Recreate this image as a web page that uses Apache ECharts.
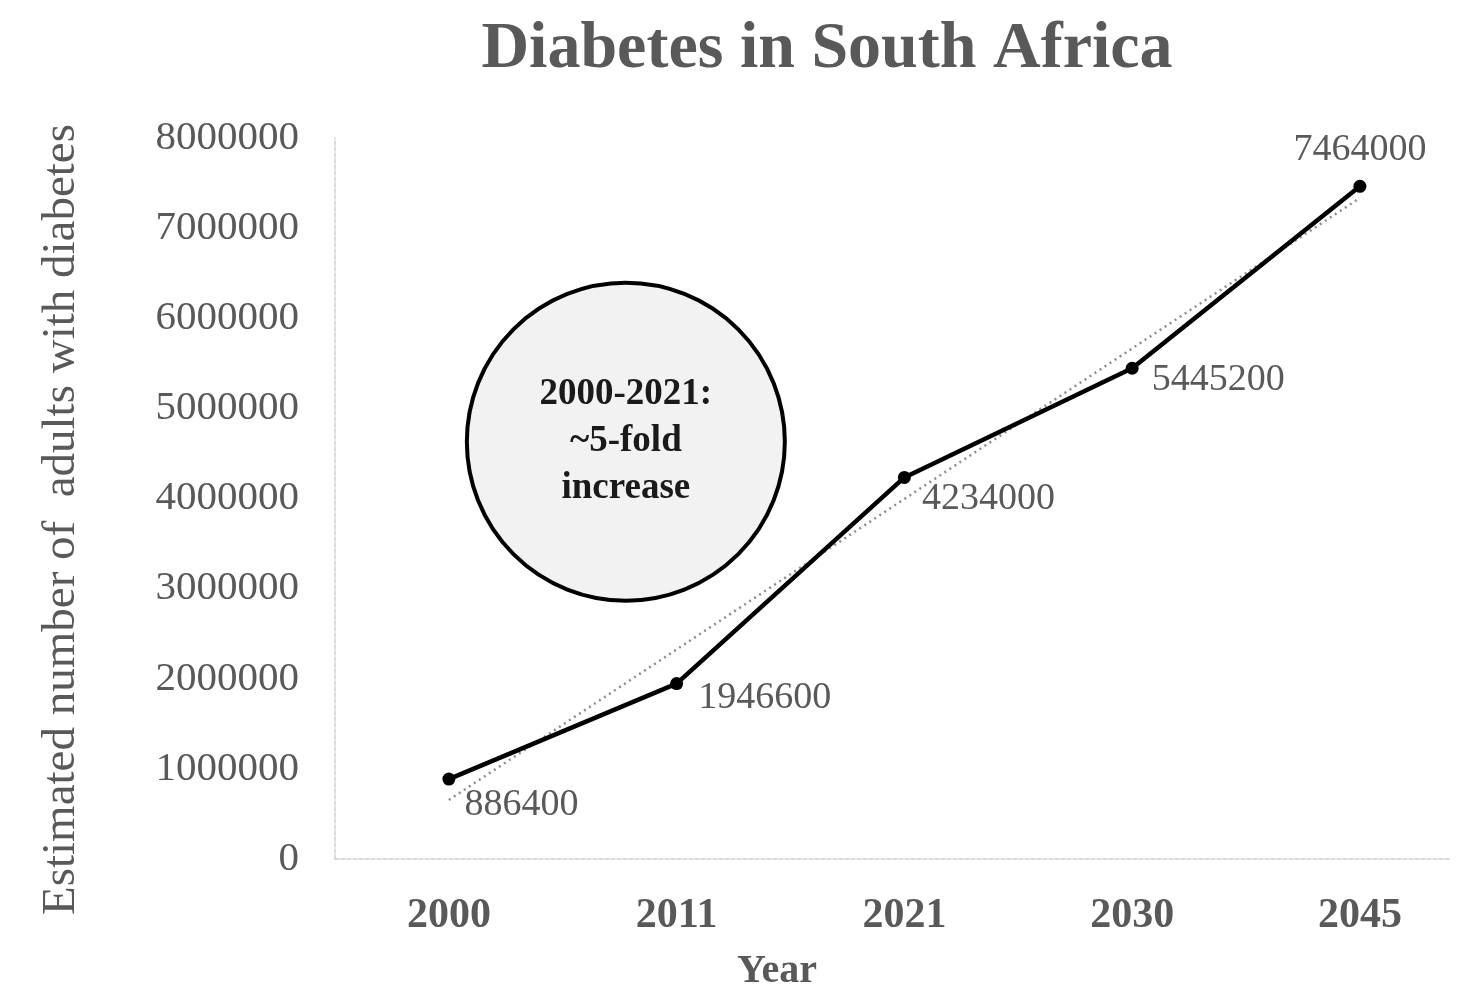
<!DOCTYPE html>
<html>
<head>
<meta charset="utf-8">
<script src="https://cdn.jsdelivr.net/npm/echarts@6/dist/echarts.min.js"></script>
<style>html,body{margin:0;padding:0;background:#fff}#c{width:1470px;height:1000px}</style>
</head>
<body>
<div id="c"></div>
<script>
const years = ['2000', '2011', '2021', '2030', '2045'];
const adults = [886400, 1946600, 4234000, 5445200, 7464000];
const trendYears = ['2000', '2045'];
const trendValues = [655000, 7335000];
const yTicks = [0, 1000000, 2000000, 3000000, 4000000, 5000000, 6000000, 7000000, 8000000];
const noteText = '2000-2021:\n~5-fold\nincrease';

const FONT = '"Liberation Serif", "DejaVu Serif", serif';
const GREY = '#595959';

const idx = y => years.indexOf(y);
const lineData = years.map((y, i) => [idx(y), adults[i]]);
const trendData = trendYears.map((y, i) => [idx(y), trendValues[i]]);

const labelSpec = [
  { position: 'right', offset: [4, 26] },
  { position: 'right', offset: [10, 14] },
  { position: 'right', offset: [6, 22] },
  { position: 'right', offset: [8, 12] },
  { position: 'top', offset: [0, -6] }
];

const chart = echarts.init(document.getElementById('c'));
chart.setOption({
  backgroundColor: '#fff',
  animation: false,
  title: [
    { text: 'Diabetes in South Africa', left: 822, top: 12, textAlign: 'center',
      textStyle: { fontFamily: FONT, fontSize: 66, fontWeight: 'bold', color: GREY } },
    { text: 'Year', left: 772, top: 947, textAlign: 'center',
      textStyle: { fontFamily: FONT, fontSize: 40, fontWeight: 'bold', color: GREY } }
  ],
  grid: { left: 335, right: 19, top: 138, bottom: 141, containLabel: false },
  xAxis: {
    type: 'value', min: -0.5, max: 4.4,
    splitLine: { show: false },
    axisLine: { show: true, onZero: false, lineStyle: { color: '#d0d0d0', width: 1.5, type: [4, 2] } },
    axisTick: { show: false },
    axisLabel: {
      customValues: years.map((y, i) => i),
      formatter: v => years[Math.round(v)] || '',
      margin: 36, fontFamily: FONT, fontSize: 42, fontWeight: 'bold', color: GREY
    }
  },
  yAxis: {
    type: 'value', min: 0, max: 8000000, interval: 1000000,
    name: 'Estimated number of  adults with diabetes',
    nameLocation: 'middle', nameGap: 250,
    nameTextStyle: { fontFamily: FONT, fontSize: 47, color: GREY, padding: [0, 42, 0, 0] },
    splitLine: { show: false },
    axisLine: { show: true, onZero: false, lineStyle: { color: '#d0d0d0', width: 1.5, type: [4, 2] } },
    axisTick: { show: false },
    axisLabel: {
      customValues: yTicks,
      formatter: v => String(v),
      margin: 36, fontFamily: FONT, fontSize: 41, color: GREY
    }
  },
  series: [
    {
      type: 'line', data: trendData, symbol: 'none', silent: true, z: 1,
      lineStyle: { color: '#8c8c8c', width: 2.5, type: [2, 4] }
    },
    {
      type: 'line', z: 3,
      data: lineData.map((d, i) => ({ value: d, label: labelSpec[i] })),
      symbol: 'circle', symbolSize: 13,
      itemStyle: { color: '#000' },
      lineStyle: { color: '#000', width: 4.5 },
      label: {
        show: true, fontFamily: FONT, fontSize: 38, color: GREY,
        formatter: p => String(p.value[1])
      },
      markPoint: {
        silent: true,
        symbol: 'circle', symbolSize: 318,
        itemStyle: { color: '#f2f2f2', borderColor: '#000', borderWidth: 4 },
        label: {
          show: true, formatter: noteText, fontFamily: FONT, fontSize: 37,
          fontWeight: 'bold', color: '#1a1a1a', lineHeight: 47, align: 'center'
        },
        data: [{ coord: [0.777, 4630000] }]
      }
    }
  ]
});
</script>
</body>
</html>
